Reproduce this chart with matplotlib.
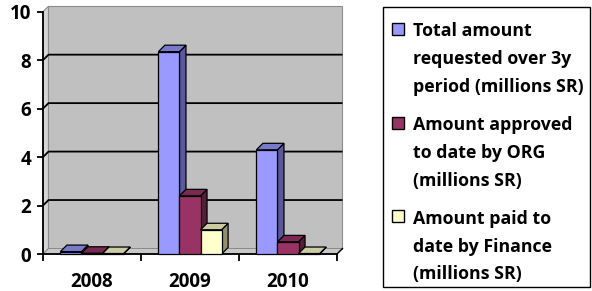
import matplotlib
matplotlib.use("Agg")
import matplotlib.pyplot as plt
from matplotlib.patches import Polygon, Rectangle
import numpy as np

categories = ["2008", "2009", "2010"]
series_names = [
    "Total amount\nrequested over 3y\nperiod (millions SR)",
    "Amount approved\nto date by ORG\n(millions SR)",
    "Amount paid to\ndate by Finance\n(millions SR)",
]
requested = [0.1, 8.35, 4.3]
approved = [0.03, 2.4, 0.5]
paid = [0.02, 1.0, 0.02]
series_values = [requested, approved, paid]
yticks = [0, 2, 4, 6, 8, 10]

front_colors = ["#9999FF", "#993366", "#FFFFCC"]
side_colors = ["#5A5A9A", "#561D39", "#8F8F72"]
top_colors = ["#7A7ACC", "#7A2952", "#CCCCA3"]

FONT = "Open Sans"
WEIGHT = "bold"
W, H = 592, 291
fig = plt.figure(figsize=(W / 100, H / 100), dpi=100)

# axes placement (pixels)
ax_l, ax_r, ax_t, ax_b = 43, 337, 11.7, 254
ax = fig.add_axes([ax_l / W, 1 - ax_b / H, (ax_r - ax_l) / W, (ax_b - ax_t) / H])
ax.set_facecolor("none")
ax.set_xlim(-0.5, 2.5)
ax.set_ylim(0, 10)

# depth in data units
depth_px = 5.5
dx = depth_px * 3.0 / (ax_r - ax_l)
dy = depth_px * 10.0 / (ax_b - ax_t)
bar_depth_px = 6.5
bdx = bar_depth_px * 3.0 / (ax_r - ax_l)
bdy = bar_depth_px * 10.0 / (ax_b - ax_t)

x0, x1 = -0.5, 2.5
ymax = 10
# side wall
ax.add_patch(Polygon([(x0, 0), (x0 + dx, dy), (x0 + dx, ymax + dy), (x0, ymax)],
                     closed=True, facecolor="#D6D6D6", edgecolor="#8C8C8C", lw=0.8,
                     clip_on=False, zorder=0.5))
# back wall
ax.add_patch(Polygon([(x0 + dx, dy), (x1 + dx, dy), (x1 + dx, ymax + dy), (x0 + dx, ymax + dy)],
                     closed=True, facecolor="#C0C0C0", edgecolor="#8C8C8C", lw=0.8,
                     clip_on=False, zorder=0.5))
# floor
ax.add_patch(Polygon([(x0, 0), (x1, 0), (x1 + dx, dy), (x0 + dx, dy)],
                     closed=True, facecolor="#C8C8C8", edgecolor="#808080", lw=0.6,
                     clip_on=False, zorder=0.6))
# gridlines
for yv in yticks[1:-1]:
    ax.plot([x0, x0 + dx, x1 + dx], [yv, yv + dy, yv + dy], color="black", lw=1.3,
            clip_on=False, zorder=0.8, solid_capstyle="butt")

# bars
xpos = np.arange(len(categories))
bw = 0.215
z = 2
for c in range(len(categories)):
    for i, (vals, fc, sc, tc) in enumerate(zip(series_values, front_colors, side_colors, top_colors)):
        xc = xpos[c] + (i - 1) * bw
        bars = ax.bar([xc], [vals[c]], width=bw, color=fc, edgecolor="black", lw=0.9,
                      zorder=z + 2, clip_on=False)
        p = bars[0]
        bx0, bx1, h = p.get_x(), p.get_x() + p.get_width(), p.get_height()
        ax.add_patch(Polygon([(bx1, 0), (bx1 + bdx, bdy), (bx1 + bdx, h + bdy), (bx1, h)],
                             closed=True, facecolor=sc, edgecolor="black", lw=0.9,
                             zorder=z + 1, clip_on=False))
        ax.add_patch(Polygon([(bx0, h), (bx0 + bdx, h + bdy), (bx1 + bdx, h + bdy), (bx1, h)],
                             closed=True, facecolor=tc, edgecolor="black", lw=0.9,
                             zorder=z + 1, clip_on=False))
        z += 3

# spines & ticks
for s in ["top", "right"]:
    ax.spines[s].set_visible(False)
for s in ["left", "bottom"]:
    ax.spines[s].set_color("black")
    ax.spines[s].set_linewidth(1.3)
    ax.spines[s].set_zorder(1)
# right floor edge diagonal
ax.plot([x1, x1 + dx], [0, dy], color="black", lw=1.0, clip_on=False, zorder=1)

ax.set_yticks(yticks)
ax.set_yticklabels([str(t) for t in yticks], fontfamily=FONT, fontweight=WEIGHT, fontsize=13.5)
ax.set_xticks([-0.5, 0.5, 1.5, 2.5])
ax.set_xticklabels([])
ax.set_xticks(xpos, minor=True)
ax.set_xticklabels(categories, minor=True, fontfamily=FONT, fontweight=WEIGHT, fontsize=13.5)
ax.tick_params(axis="y", direction="out", length=4.5, width=1.3, pad=4)
ax.tick_params(axis="x", which="major", direction="out", length=5, width=1.3)
ax.tick_params(axis="x", which="minor", length=0, pad=13)

# legend (manual, Excel style)
lx0, ly0, lx1, ly1 = 383, 7, 590, 287
fig.patches.append(Rectangle((lx0 / W, 1 - ly1 / H), (lx1 - lx0) / W, (ly1 - ly0) / H,
                             transform=fig.transFigure, facecolor="white",
                             edgecolor="black", lw=1.0))
entry_top = [23, 116.5, 210]
line_gap = 28
for k, (name, fc) in enumerate(zip(series_names, front_colors)):
    yt = entry_top[k]
    fig.patches.append(Rectangle((392 / W, 1 - (yt + 12) / H), 12 / W, 12 / H,
                                 transform=fig.transFigure, facecolor=fc,
                                 edgecolor="black", lw=1.0))
    for j, line in enumerate(name.split("\n")):
        fig.text(413 / W, 1 - (yt + 13.5 + j * line_gap) / H, line, fontfamily=FONT,
                 fontweight=WEIGHT, fontsize=12.8, ha="left", va="baseline")

fig.savefig("out.png", dpi=100)
